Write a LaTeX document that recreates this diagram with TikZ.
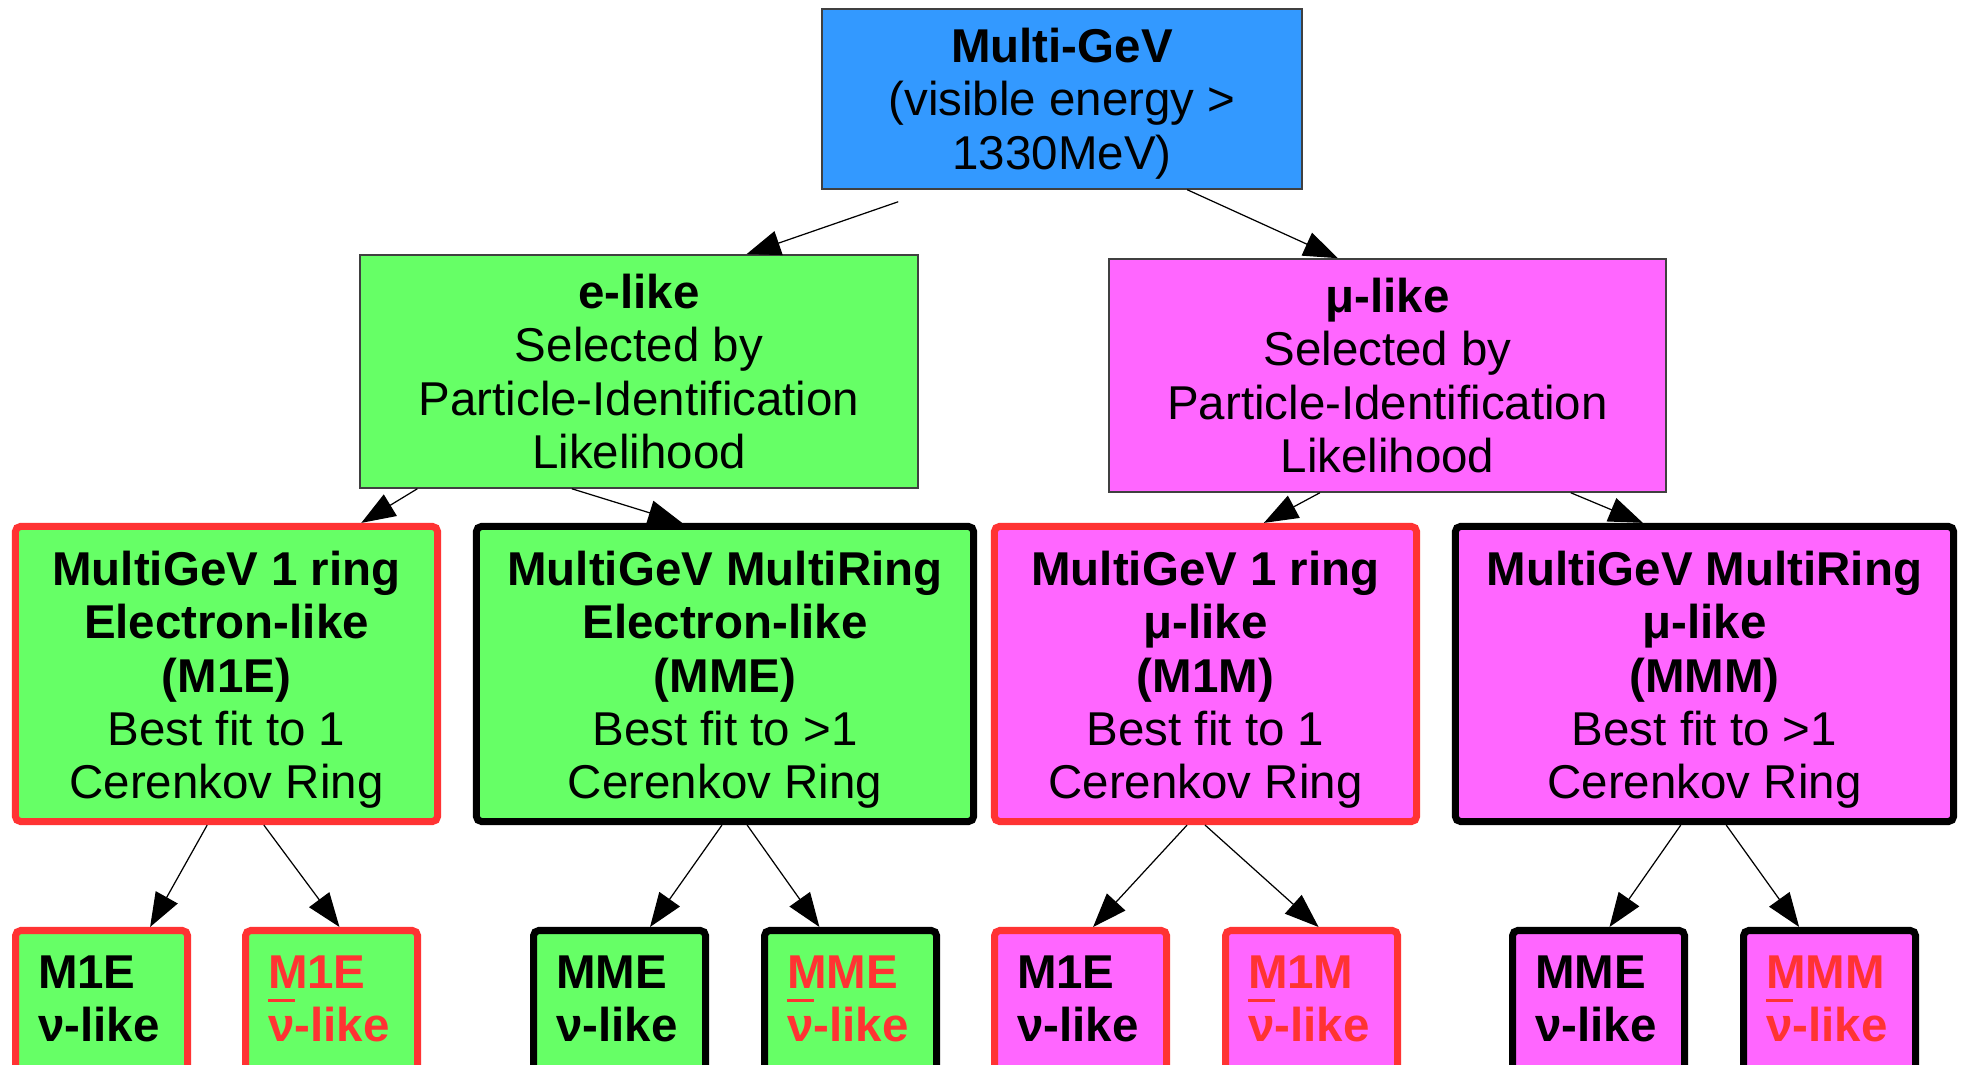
\documentclass[tikz,border=0pt]{standalone}
\usepackage{fontspec}
\setmainfont{Liberation Sans}
\usetikzlibrary{arrows.meta,calc}

\definecolor{multiblue}{RGB}{51,153,255}
\definecolor{egreen}{RGB}{102,255,102}
\definecolor{mupink}{RGB}{255,102,255}
\definecolor{ringred}{RGB}{255,51,51}

\tikzstyle{thin box}=[draw=black!75, line width=0.4pt, inner sep=2pt, align=center]
\tikzstyle{ring box}=[line width=2pt, rounded corners=1.5pt, inner sep=2pt, align=center, minimum height=2.95cm]
\tikzstyle{leaf}=[line width=2pt, rounded corners=1.5pt, inner sep=0.225cm, anchor=north west, minimum width=1.72cm]
\tikzstyle{link}=[-{Triangle[length=0.34cm, width=0.25cm]}, line width=0.35pt]

\newcommand{\nubar}{\makebox[0pt][l]{\rule[0.83em]{0.56em}{0.065em}}ν}
\newcommand{\lift}[1]{\rule{0pt}{#1}}
\newcommand{\leaftext}[2]{\parbox[t][2cm][t]{1.27cm}{\raggedright\bfseries\lift{0.74em}#1\\#2}}

\begin{document}
\begin{tikzpicture}[x=0.01cm, y=-0.01cm, every node/.style={font=\fontsize{13.5pt}{15.2pt}\selectfont}]
	\clip (0,0) rectangle (1963,1065);

	% top and the two selections
	\node[thin box, fill=multiblue, minimum width=4.8cm, minimum height=1.8cm] (multi) at (1062,99)
		{\lift{0.92em}\textbf{Multi-GeV}\\(visible energy >\\1330MeV)};
	\node[thin box, fill=egreen, minimum width=5.58cm, minimum height=2.33cm] (elike) at (639,371.5)
		{\textbf{e-like}\\Selected by\\Particle-Identification\\Likelihood};
	\node[thin box, fill=mupink, minimum width=5.57cm, minimum height=2.33cm] (mulike) at (1387.5,375.5)
		{\textbf{μ-like}\\Selected by\\Particle-Identification\\Likelihood};

	% ring samples
	\node[ring box, fill=egreen, draw=ringred, minimum width=4.22cm] (mone) at (226.5,674)
		{\lift{0.97em}\textbf{MultiGeV 1 ring}\\\textbf{Electron-like}\\\textbf{(M1E)}\\Best fit to 1\\Cerenkov Ring};
	\node[ring box, fill=egreen, draw=black, minimum width=4.97cm] (mme) at (725,674)
		{\lift{0.97em}\textbf{MultiGeV MultiRing}\\\textbf{Electron-like}\\\textbf{(MME)}\\Best fit to >1\\Cerenkov Ring};
	\node[ring box, fill=mupink, draw=ringred, minimum width=4.22cm] (monm) at (1205.5,674)
		{\lift{0.97em}\textbf{MultiGeV 1 ring}\\\textbf{μ-like}\\\textbf{(M1M)}\\Best fit to 1\\Cerenkov Ring};
	\node[ring box, fill=mupink, draw=black, minimum width=4.98cm] (mmm) at (1704.5,674)
		{\lift{0.97em}\textbf{MultiGeV MultiRing}\\\textbf{μ-like}\\\textbf{(MMM)}\\Best fit to >1\\Cerenkov Ring};

	% nu / nubar samples
	\node[leaf, fill=egreen, draw=ringred] (nuone) at (12,927) {\leaftext{M1E}{ν-like}};
	\node[leaf, fill=egreen, draw=ringred, text=ringred] (nubone) at (242,927) {\leaftext{M1E}{\nubar-like}};
	\node[leaf, fill=egreen, draw=black] (numme) at (530,927) {\leaftext{MME}{ν-like}};
	\node[leaf, fill=egreen, draw=black, text=ringred] (nubmme) at (761,927) {\leaftext{MME}{\nubar-like}};
	\node[leaf, fill=mupink, draw=ringred] (nuonm) at (991,927) {\leaftext{M1E}{ν-like}};
	\node[leaf, fill=mupink, draw=ringred, text=ringred] (nubonm) at (1222,927) {\leaftext{M1M}{\nubar-like}};
	\node[leaf, fill=mupink, draw=black] (nummm) at (1509,927) {\leaftext{MME}{ν-like}};
	\node[leaf, fill=mupink, draw=black, text=ringred] (nubmmm) at (1740,927) {\leaftext{MMM}{\nubar-like}};

	% arrows
	\draw[link] ($(multi.south west)!0.16!(multi.south east)+(0,12)$) -- ($(elike.north west)!0.692!(elike.north east)$);
	\draw[link] ($(multi.south west)!0.76!(multi.south east)$) -- ($(mulike.north west)!0.411!(mulike.north east)$);

	\draw[link] ($(elike.south west)!0.104!(elike.south east)$) -- ($(mone.north west)!0.814!(mone.north east)$);
	\draw[link] ($(elike.south west)!0.38!(elike.south east)$) -- ($(mme.north west)!0.415!(mme.north east)$);
	\draw[link] ($(mulike.south west)!0.379!(mulike.south east)$) -- ($(monm.north west)!0.636!(monm.north east)$);
	\draw[link] ($(mulike.south west)!0.828!(mulike.south east)$) -- ($(mmm.north west)!0.378!(mmm.north east)$);

	\draw[link] ($(mone.south west)!0.455!(mone.south east)$) -- ($(nuone.north west)!0.771!(nuone.north east)$);
	\draw[link] ($(mone.south west)!0.587!(mone.south east)$) -- ($(nubone.north west)!0.544!(nubone.north east)$);
	\draw[link] ($(mme.south west)!0.494!(mme.south east)$) -- ($(numme.north west)!0.67!(numme.north east)$);
	\draw[link] ($(mme.south west)!0.544!(mme.south east)$) -- ($(nubmme.north west)!0.326!(nubmme.north east)$);
	\draw[link] ($(monm.south west)!0.457!(monm.south east)$) -- ($(nuonm.north west)!0.57!(nuonm.north east)$);
	\draw[link] ($(monm.south west)!0.499!(monm.south east)$) -- ($(nubonm.north west)!0.539!(nubonm.north east)$);
	\draw[link] ($(mmm.south west)!0.453!(mmm.south east)$) -- ($(nummm.north west)!0.561!(nummm.north east)$);
	\draw[link] ($(mmm.south west)!0.543!(mmm.south east)$) -- ($(nubmmm.north west)!0.33!(nubmmm.north east)$);
\end{tikzpicture}
\end{document}
